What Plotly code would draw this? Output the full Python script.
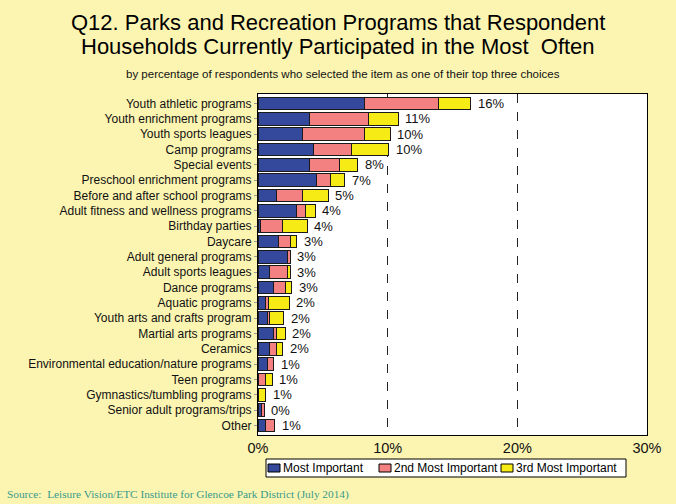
import plotly.graph_objects as go

categories = [
    "Youth athletic programs", "Youth enrichment programs", "Youth sports leagues",
    "Camp programs", "Special events", "Preschool enrichment programs",
    "Before and after school programs", "Adult fitness and wellness programs",
    "Birthday parties", "Daycare", "Adult general programs", "Adult sports leagues",
    "Dance programs", "Aquatic programs", "Youth arts and crafts program",
    "Martial arts programs", "Ceramics", "Environmental education/nature programs",
    "Teen programs", "Gymnastics/tumbling programs", "Senior adult programs/trips", "Other",
]
most_important = [8.2, 4.0, 3.4, 4.3, 4.0, 4.5, 1.4, 3.0, 0.2, 1.6, 2.3, 0.9,
                  1.2, 0.6, 0.7, 1.2, 0.9, 0.7, 0.0, 0.0, 0.3, 0.6]
second_important = [5.7, 4.5, 4.8, 2.9, 2.3, 1.1, 2.0, 0.7, 1.7, 0.9, 0.2, 1.4,
                    0.9, 0.2, 0.2, 0.2, 0.5, 0.5, 0.6, 0.0, 0.2, 0.7]
third_important = [2.5, 2.3, 2.0, 2.9, 1.4, 1.1, 2.0, 0.7, 1.9, 0.5, 0.0, 0.2,
                   0.5, 1.6, 1.1, 0.7, 0.5, 0.0, 0.5, 0.6, 0.0, 0.0]
total_labels = ["16%", "11%", "10%", "10%", "8%", "7%", "5%", "4%", "4%", "3%", "3%",
                "3%", "3%", "2%", "2%", "2%", "2%", "1%", "1%", "1%", "0%", "1%"]
series_names = ["Most Important", "2nd Most Important", "3rd Most Important"]
x_ticks = [0, 10, 20, 30]
x_tick_labels = ["0%", "10%", "20%", "30%"]

totals = [a + b + c for a, b, c in zip(most_important, second_important, third_important)]

FONT = "Liberation Sans, Arial, sans-serif"
COLORS = ["#34489C", "#F38181", "#F6EB14"]
line = dict(color="#1a1a1a", width=1)

# plot area in pixels
L, R, T, B = 258, 647, 94, 435
W, H = R - L, B - T


def px_x(x):
    return (x - L) / W


def px_y(y):
    return (B - y) / H


fig = go.Figure()
for name, vals, col in zip(series_names, [most_important, second_important, third_important], COLORS):
    fig.add_trace(go.Bar(y=categories, x=vals, orientation="h", name=name,
                         marker=dict(color=col, line=line), showlegend=False))

fig.update_layout(
    barmode="stack",
    bargap=0.16,
    width=676, height=504,
    paper_bgcolor="#FCF5B2",
    plot_bgcolor="#FFFFFF",
    margin=dict(l=L, r=676 - R, t=T, b=504 - B, autoexpand=False),
    font=dict(family=FONT, color="#111111"),
    showlegend=False,
    xaxis=dict(range=[0, 30], tickvals=x_ticks, ticktext=x_tick_labels,
               showgrid=True, gridcolor="#222222", griddash="dash", gridwidth=1,
               tickfont=dict(size=14.5, family=FONT, color="#111111"), showline=True,
               linecolor="#000000", mirror=True, zeroline=False, ticks="", fixedrange=True),
    yaxis=dict(autorange="reversed", tickfont=dict(size=12, family=FONT, color="#111111"),
               showline=True, linecolor="#000000", mirror=True, ticks="outside",
               ticklen=3, tickcolor="#999999", fixedrange=True),
)

for cat, tot, lab in zip(categories, totals, total_labels):
    fig.add_annotation(x=tot, y=cat, text=lab, xanchor="left", yanchor="middle",
                       xshift=5, showarrow=False,
                       font=dict(size=13, family=FONT, color="#111111"))

# legend box (drawn in paper coordinates)
fig.add_shape(type="rect", xref="paper", yref="paper",
              x0=px_x(266), x1=px_x(626), y0=px_y(459), y1=px_y(477),
              fillcolor="#FFFFFF", line=dict(color="#000000", width=1))
legend_swatch_x = [267, 378, 500]
for name, col, sx in zip(series_names, COLORS, legend_swatch_x):
    fig.add_shape(type="rect", xref="paper", yref="paper",
                  x0=px_x(sx + 1), x1=px_x(sx + 13), y0=px_y(464), y1=px_y(472),
                  fillcolor=col, line=dict(color="#000000", width=1))
    fig.add_annotation(text=name, xref="paper", yref="paper", x=px_x(sx + 14), y=px_y(468.5),
                       xanchor="left", yanchor="middle", showarrow=False,
                       font=dict(size=12, family=FONT, color="#000000"))

title_lines = ["Q12. Parks and Recreation Programs that Respondent",
               "Households Currently Participated in the Most  Often"]
for txt, yc in zip(title_lines, [23, 47]):
    fig.add_annotation(text=txt, xref="paper", yref="paper", x=px_x(338), y=px_y(yc),
                       xanchor="center", yanchor="middle", showarrow=False,
                       font=dict(size=22, family=FONT, color="#000000"))
fig.add_annotation(text="by percentage of respondents who selected the item as one of their top three choices",
                   xref="paper", yref="paper", x=px_x(343), y=px_y(74),
                   xanchor="center", yanchor="middle", showarrow=False,
                   font=dict(size=11.5, family=FONT, color="#111111"))
fig.add_annotation(text="Source:  Leisure Vision/ETC Institute for Glencoe Park District (July 2014)",
                   xref="paper", yref="paper", x=px_x(5), y=px_y(494),
                   xanchor="left", yanchor="middle", showarrow=False,
                   font=dict(size=11.3, family="Liberation Serif, Times New Roman, serif", color="#389A8A"))

fig.write_html("out.html", config={"displayModeBar": False},
               post_script="document.body.style.margin='0';document.body.style.background='#FCF5B2';")
